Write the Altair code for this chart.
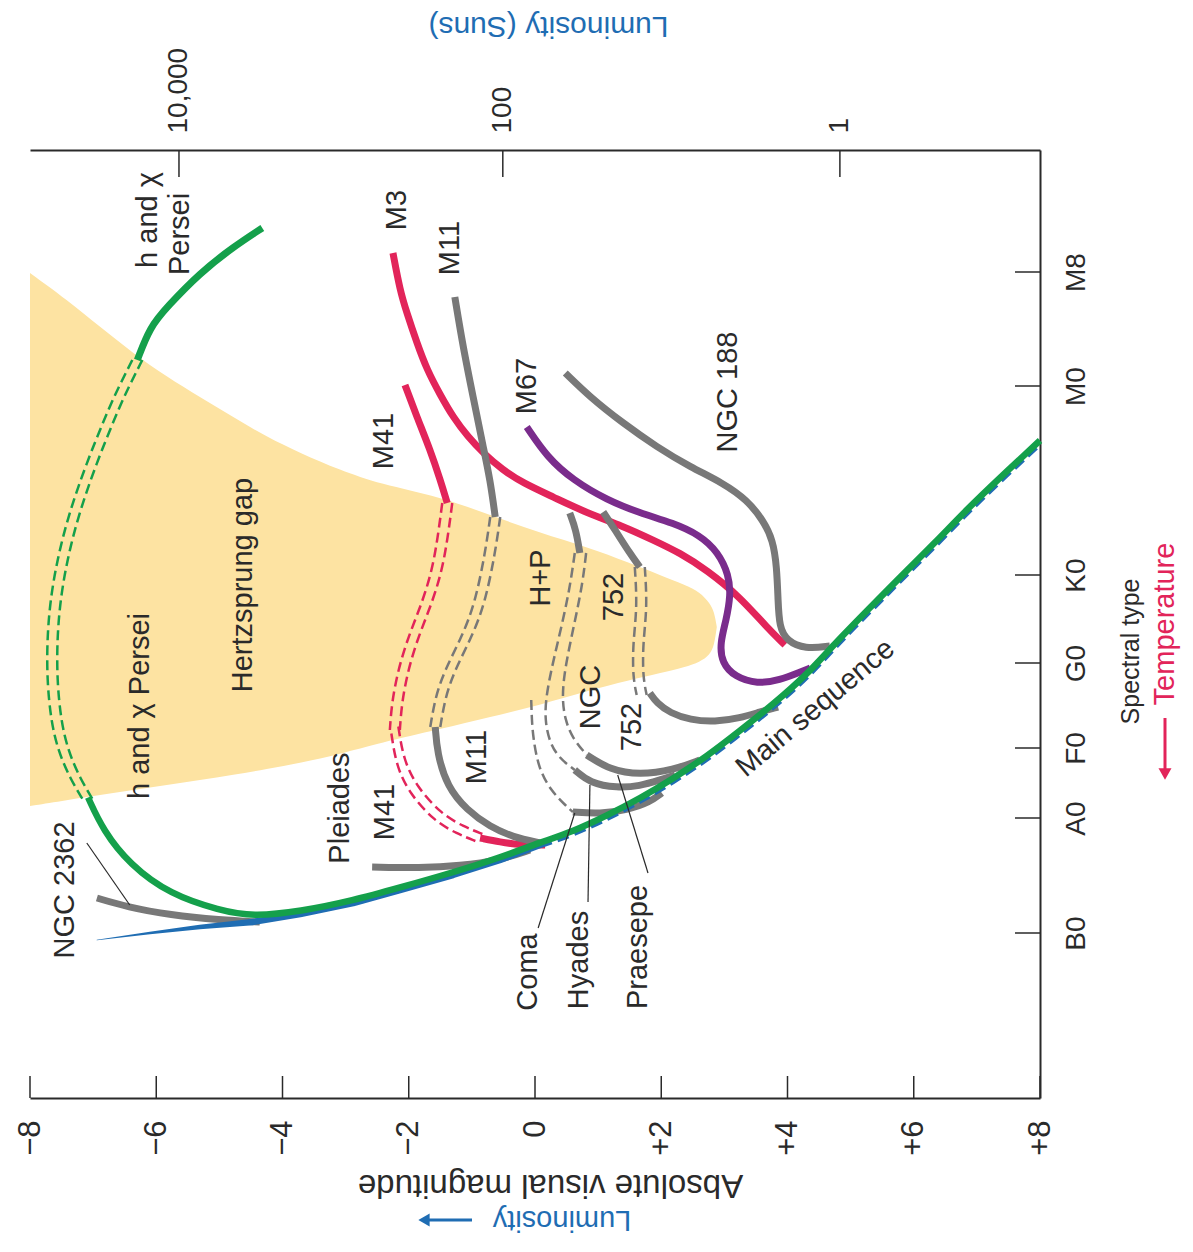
import altair as alt
import pandas as pd

# ---------------- layout / style ----------------
W, H = 1010, 948
FONT = "Liberation Sans"
RED = "#e2245a"
GRAY = "#787878"
GREEN = "#14a04b"
BLUE = "#1f6db3"
PURPLE = "#7a2c8c"
GAPC = "#fde3a2"
INK = "#2a2a2a"

# ---------------- axes data ----------------
MAG_TICKS = [-8, -6, -4, -2, 0, 2, 4, 6, 8]
MAG_LABELS = ["\u22128", "\u22126", "\u22124", "\u22122", "0", "+2", "+4", "+6", "+8"]
LUM_MAG = [-5.64, -0.51, 4.83]
LUM_LABELS = ["10,000", "100", "1"]
SPEC_POS = [0.0, 1.15, 1.85, 2.70, 3.58, 5.47, 6.61]
SPEC_LABELS = ["B0", "A0", "F0", "G0", "K0", "M0", "M8"]

# ---------------- Hertzsprung gap ----------------
GAP_MAG = [-8.0, -7.41, -6.89, -6.37, -5.83, -5.31, -4.78, -4.25, -3.72, -3.09, -2.46,
           -1.50, -0.71, 0.08, 0.82, 1.50, 1.98, 2.38, 2.61, 2.77, 2.84, 2.88]
GAP_UPPER = [6.60, 6.33, 6.06, 5.80, 5.56, 5.36, 5.16, 4.96, 4.80, 4.63, 4.49,
             4.36, 4.18, 4.00, 3.86, 3.70, 3.58, 3.48, 3.41, 3.30, 3.21, 3.06]
GAP_LOWER = [1.27, 1.33, 1.38, 1.43, 1.48, 1.53, 1.58, 1.64, 1.70, 1.79, 1.90,
             2.04, 2.16, 2.28, 2.42, 2.53, 2.60, 2.66, 2.71, 2.78, 2.88, 3.06]

# ---------------- main sequence ----------------
MS_MAG = [-6.94, -6.10, -5.31, -4.47, -3.72, -2.88, -2.14, -1.30, -0.55, 0.08, 0.60, 1.14,
          1.66, 2.19, 2.72, 3.25, 3.77, 4.31, 4.72, 5.31, 5.78, 6.34, 6.84, 7.37, 8.00]
MS_S = [-0.07, 0.00, 0.06, 0.11, 0.19, 0.30, 0.43, 0.58, 0.73, 0.88, 0.99, 1.15,
        1.32, 1.52, 1.74, 2.00, 2.26, 2.56, 2.85, 3.23, 3.53, 3.88, 4.21, 4.53, 4.90]

# ---------------- h and chi Persei (green) ----------------
GRN_TOP_MAG = [-4.32, -4.78, -5.31, -5.83, -6.10, -6.30]
GRN_TOP_S = [7.05, 6.86, 6.60, 6.26, 6.06, 5.73]
GRN_GAP_MAG = [-6.30, -6.54, -6.73, -7.05, -7.32, -7.49, -7.60, -7.65, -7.65, -7.59, -7.48, -7.29, -7.08]
GRN_GAP_S = [5.73, 5.43, 5.16, 4.66, 4.16, 3.73, 3.33, 2.93, 2.53, 2.13, 1.83, 1.55, 1.33]
GRN_LOW_MAG = [-7.08, -6.84, -6.42, -5.78, -4.99, -4.47, -3.72, -2.88, -2.14, -1.30, -0.55, 0.08,
               0.60, 1.14, 1.66, 2.19, 2.72, 3.25, 3.77, 4.31, 4.72, 5.31, 5.78, 6.34, 6.84, 7.37, 8.00]
GRN_LOW_S = [1.33, 1.00, 0.66, 0.36, 0.20, 0.14, 0.19, 0.30, 0.43, 0.58, 0.73, 0.88,
             0.99, 1.15, 1.32, 1.52, 1.74, 2.00, 2.26, 2.56, 2.85, 3.23, 3.53, 3.88, 4.21, 4.53, 4.90]

# ---------------- gray clusters ----------------
N2362_MAG = [-6.94, -6.46, -5.78, -4.99, -4.36]
N2362_S = [0.35, 0.26, 0.18, 0.13, 0.11]
PLEI_MAG = [-2.58, -1.82, -1.19, -0.55, -0.08]
PLEI_S = [0.66, 0.65, 0.67, 0.73, 0.83]
M11_TOP_MAG = [-1.27, -1.14, -0.98, -0.82, -0.71, -0.63]
M11_TOP_S = [6.36, 5.86, 5.36, 4.86, 4.53, 4.16]
M11_GAP_MAG = [-0.63, -0.71, -0.87, -1.08, -1.35, -1.50, -1.58]
M11_GAP_S = [4.16, 3.80, 3.30, 2.96, 2.63, 2.36, 2.06]
M11_LOW_MAG = [-1.58, -1.55, -1.39, -1.08, -0.71, -0.35, 0.08]
M11_LOW_S = [2.06, 1.80, 1.46, 1.23, 1.06, 0.96, 0.90]
HP_TOP_MAG = [0.55, 0.65, 0.71]
HP_TOP_S = [4.20, 4.03, 3.80]
HYA_GAP_MAG = [0.63, 0.57, 0.48, 0.35, 0.24, 0.17, 0.16, 0.22, 0.36, 0.63]
HYA_GAP_S = [3.80, 3.53, 3.23, 2.88, 2.58, 2.33, 2.13, 1.93, 1.76, 1.63]
PRA_GAP_MAG = [0.81, 0.76, 0.67, 0.55, 0.46, 0.43, 0.48, 0.59, 0.82]
PRA_GAP_S = [3.80, 3.53, 3.23, 2.88, 2.58, 2.33, 2.13, 1.95, 1.78]
COMA_GAP_MAG = [-0.06, -0.05, -0.03, 0.05, 0.24, 0.51, 0.60]
COMA_GAP_S = [2.33, 2.13, 1.96, 1.66, 1.43, 1.26, 1.21]
COMA_LOW_MAG = [0.60, 1.03, 1.46, 1.82, 2.01]
COMA_LOW_S = [1.21, 1.19, 1.23, 1.31, 1.40]
HYA_LOW_MAG = [0.63, 0.87, 1.30, 1.66, 1.98, 2.22]
HYA_LOW_S = [1.63, 1.50, 1.45, 1.47, 1.53, 1.58]
PRA_LOW_MAG = [0.82, 1.19, 1.66, 2.19, 2.61]
PRA_LOW_S = [1.78, 1.63, 1.58, 1.63, 1.73]
N752_TOP_MAG = [1.08, 1.30, 1.50, 1.66]
N752_TOP_S = [4.21, 4.00, 3.80, 3.66]
N752_GAP_MAG = [1.66, 1.70, 1.63, 1.63, 1.69]
N752_GAP_S = [3.66, 3.26, 2.90, 2.56, 2.38]
N752_LOW_MAG = [1.82, 1.93, 2.14, 2.46, 2.85, 3.25, 3.56, 3.85]
N752_LOW_S = [2.40, 2.30, 2.20, 2.13, 2.11, 2.15, 2.21, 2.26]
N188_MAG = [0.48, 0.87, 1.39, 1.93, 2.46, 2.98, 3.36, 3.61, 3.77, 3.83, 3.85, 3.87, 3.99, 4.28, 4.67]
N188_S = [5.60, 5.36, 5.10, 4.86, 4.66, 4.50, 4.33, 4.13, 3.93, 3.66, 3.33, 3.06, 2.92, 2.84, 2.87]

# ---------------- red clusters ----------------
M3_MAG = [-2.25, -2.14, -2.03, -1.87, -1.71, -1.50, -1.30, -1.06, -0.82, -0.51, -0.19, 0.29,
          0.82, 1.39, 1.87, 2.30, 2.72, 3.25, 3.68, 3.96]
M3_S = [6.80, 6.43, 6.20, 5.90, 5.63, 5.38, 5.16, 4.96, 4.80, 4.63, 4.50, 4.36,
        4.20, 4.07, 3.93, 3.80, 3.63, 3.36, 3.05, 2.88]
M41_TOP_MAG = [-2.06, -1.87, -1.66, -1.50, -1.39]
M41_TOP_S = [5.48, 5.16, 4.83, 4.53, 4.30]
M41_GAP1_MAG = [-1.39, -1.46, -1.55, -1.71, -1.93, -2.09, -2.19, -2.22]
M41_GAP1_S = [4.30, 3.96, 3.63, 3.30, 2.96, 2.63, 2.30, 2.03]
M41_GAP2_MAG = [-2.22, -2.14, -1.93, -1.55, -1.19, -0.87]
M41_GAP2_S = [2.03, 1.70, 1.43, 1.16, 1.03, 0.95]
M41_LOW_MAG = [-0.87, -0.55, -0.24, 0.16]
M41_LOW_S = [0.95, 0.91, 0.88, 0.88]

# ---------------- purple ----------------
M67_MAG = [-0.13, 0.19, 0.60, 1.14, 1.66, 2.19, 2.61, 2.90, 3.07, 3.10, 3.03, 2.93, 2.96, 3.17, 3.52, 3.88, 4.20, 4.36]
M67_S = [5.06, 4.76, 4.53, 4.33, 4.20, 4.10, 3.98, 3.81, 3.58, 3.38, 3.13, 2.90, 2.70, 2.56, 2.49, 2.53, 2.61, 2.65]

# ---------------- labels ----------------
LBL_TEXT = ["h and \u03c7", "Persei", "M3", "M11", "M41", "M67", "NGC 188", "Hertzsprung gap",
            "h and \u03c7 Persei", "NGC 2362", "Pleiades", "M41", "M11", "H+P", "752", "NGC", "752",
            "Coma", "Hyades", "Praesepe"]
LBL_MAG = [-6.13, -5.62, -2.19, -1.35, -2.39, -0.13, 3.06, -4.63,
           -6.26, -7.45, -3.09, -2.38, -0.92, 0.10, 1.25, 0.89, 1.54,
           -0.11, 0.70, 1.63]
LBL_S = [7.13, 6.99, 7.23, 6.85, 4.92, 5.47, 5.41, 3.48,
         2.27, 0.43, 1.25, 1.21, 1.76, 3.55, 3.36, 2.36, 2.06,
         -0.39, -0.27, -0.14]
MS_LABEL = "Main sequence"
MS_LABEL_MAG = 4.44
MS_LABEL_S = 2.25

# leader lines (start, end)
LEAD_NAME = ["NGC 2362", "Coma", "Hyades", "Praesepe"]
LEAD_MAG0 = [-7.10, 0.63, 0.87, 1.31]
LEAD_S0 = [0.90, 1.20, 1.48, 1.58]
LEAD_MAG1 = [-6.42, 0.05, 0.84, 1.79]
LEAD_S1 = [0.28, 0.05, 0.31, 0.60]

# ---------------- helpers ----------------
xs = alt.Scale(domain=[-8, 8], nice=False, zero=False)
ys = alt.Scale(domain=[-1.65, 7.83], nice=False, zero=False)
XE = alt.X("mag:Q", scale=xs, axis=None)
YE = alt.Y("s:Q", scale=ys, axis=None)


def frame(pieces):
    rows = []
    for name, mags, ss in pieces:
        for i, (m, s) in enumerate(zip(mags, ss)):
            rows.append({"name": name, "i": i, "mag": m, "s": s})
    return pd.DataFrame(rows)


def lines(pieces, color, width, dash=None, dx=0, dy=0, interp="basis"):
    mk = dict(color=color, strokeWidth=width, interpolate=interp)
    if dash:
        mk["strokeDash"] = dash
    if dx:
        mk["xOffset"] = dx
    if dy:
        mk["yOffset"] = dy
    return alt.Chart(frame(pieces)).mark_line(**mk).encode(
        x=XE, y=YE, detail="name:N", order=alt.Order("i:Q"))


def lookup_expr(vals, labels):
    expr = "''"
    for v, l in reversed(list(zip(vals, labels))):
        expr = f"datum.value == {v} ? '{l}' : ({expr})"
    return expr


LW = 7
DASH = [10, 5]
DW = 2.5

gap = alt.Chart(pd.DataFrame({"mag": GAP_MAG, "up": GAP_UPPER, "lo": GAP_LOWER})).mark_area(
    color=GAPC, interpolate="basis").encode(
    x=XE, y=alt.Y("up:Q", scale=ys, axis=None), y2="lo:Q")

# red
red_solid = lines([("M3", M3_MAG, M3_S), ("M41t", M41_TOP_MAG, M41_TOP_S),
                   ("M41l", M41_LOW_MAG, M41_LOW_S)], RED, LW)
red_d1a = lines([("M41g1", M41_GAP1_MAG, M41_GAP1_S)], RED, DW, DASH, dx=-5)
red_d1b = lines([("M41g1", M41_GAP1_MAG, M41_GAP1_S)], RED, DW, DASH, dx=5)
red_d2a = lines([("M41g2", M41_GAP2_MAG, M41_GAP2_S)], RED, DW, DASH, dx=-3.5, dy=3.5)
red_d2b = lines([("M41g2", M41_GAP2_MAG, M41_GAP2_S)], RED, DW, DASH, dx=3.5, dy=-3.5)

# gray
gray_solid = lines([("N2362", N2362_MAG, N2362_S), ("Plei", PLEI_MAG, PLEI_S),
                    ("M11t", M11_TOP_MAG, M11_TOP_S), ("M11l", M11_LOW_MAG, M11_LOW_S),
                    ("HP", HP_TOP_MAG, HP_TOP_S), ("ComaL", COMA_LOW_MAG, COMA_LOW_S),
                    ("HyaL", HYA_LOW_MAG, HYA_LOW_S), ("PraL", PRA_LOW_MAG, PRA_LOW_S),
                    ("752t", N752_TOP_MAG, N752_TOP_S), ("752l", N752_LOW_MAG, N752_LOW_S),
                    ("188", N188_MAG, N188_S)], GRAY, LW)
gray_pair = [("M11g", M11_GAP_MAG, M11_GAP_S), ("752g", N752_GAP_MAG, N752_GAP_S)]
gray_da = lines(gray_pair, GRAY, DW, DASH, dx=-5)
gray_db = lines(gray_pair, GRAY, DW, DASH, dx=5)
gray_single = lines([("HyaG", HYA_GAP_MAG, HYA_GAP_S), ("PraG", PRA_GAP_MAG, PRA_GAP_S),
                     ("ComaG", COMA_GAP_MAG, COMA_GAP_S)], GRAY, DW, DASH)

purple = lines([("M67", M67_MAG, M67_S)], PURPLE, LW)

# main sequence (blue)
ms_df = pd.DataFrame({"mag": MS_MAG, "s": MS_S, "i": list(range(len(MS_MAG)))})
blue_trail = alt.Chart(ms_df).transform_filter("datum.mag <= 0.1").transform_calculate(
    w="min(6.5, 0.6 + (datum.mag + 6.94) * 2.3)").mark_trail(color=BLUE).encode(
    x=XE, y=YE, size=alt.Size("w:Q", scale=None, legend=None), order=alt.Order("i:Q"))
blue_dash = alt.Chart(ms_df).transform_filter("datum.mag >= 0.0").mark_line(
    color=BLUE, strokeWidth=6.5, strokeDash=[12, 6], interpolate="basis").encode(
    x=XE, y=YE, order=alt.Order("i:Q"))

# green
green_solid = lines([("gt", GRN_TOP_MAG, GRN_TOP_S)], GREEN, LW)
green_low = lines([("gl", GRN_LOW_MAG, GRN_LOW_S)], GREEN, 6.5, dy=-2.5)
green_da = lines([("gg", GRN_GAP_MAG, GRN_GAP_S)], GREEN, DW, DASH, dx=-5)
green_db = lines([("gg", GRN_GAP_MAG, GRN_GAP_S)], GREEN, DW, DASH, dx=5)

# leader lines
lead_pieces = [(n, [a, b], [c, d]) for n, a, b, c, d in
               zip(LEAD_NAME, LEAD_MAG0, LEAD_MAG1, LEAD_S0, LEAD_S1)]
leaders = lines(lead_pieces, INK, 1.2, interp="linear")

labels = alt.Chart(pd.DataFrame({"t": LBL_TEXT, "mag": LBL_MAG, "s": LBL_S})).mark_text(
    angle=270, font=FONT, fontSize=29, color=INK, align="center", baseline="middle").encode(
    x=XE, y=YE, text="t:N")
ms_label = alt.Chart(pd.DataFrame({"t": [MS_LABEL], "mag": [MS_LABEL_MAG], "s": [MS_LABEL_S]})).mark_text(
    angle=320, font=FONT, fontSize=29, color=INK, align="center", baseline="middle").encode(
    x=XE, y=YE, text="t:N")

# axes (ticks drawn inward as rules)
axis_common = dict(ticks=False, domain=True, domainColor=INK, domainWidth=2, grid=False,
                   labelFont=FONT, labelColor=INK, labelFlush=False,
                   labelOverlap=False, labelBound=False, titleFont=FONT,
                   titleFontWeight="normal", titleAlign="center", titleBaseline="middle")

bottom = alt.Chart(pd.DataFrame({"mag": MAG_TICKS})).mark_rule(color=INK, strokeWidth=1.5).encode(
    x=alt.X("mag:Q", scale=xs, axis=alt.Axis(
        orient="bottom", values=MAG_TICKS, labelExpr=lookup_expr(MAG_TICKS, MAG_LABELS),
        labelAngle=270, labelAlign="right", labelBaseline="middle", labelPadding=22,
        labelFontSize=31,
        title="Absolute visual magnitude", titleAngle=180, titleX=520, titleY=86,
        titleFontSize=33, titleColor=INK, **axis_common)),
    y=alt.value(H - 22), y2=alt.value(H))

top = alt.Chart(pd.DataFrame({"mag": LUM_MAG})).mark_rule(color=INK, strokeWidth=1.5).encode(
    x=alt.X("mag:Q", scale=xs, axis=alt.Axis(
        orient="top", values=LUM_MAG, labelExpr=lookup_expr(LUM_MAG, LUM_LABELS),
        labelAngle=270, labelAlign="left", labelBaseline="middle", labelPadding=17,
        labelFontSize=28,
        title="Luminosity (Suns)", titleAngle=180, titleX=518, titleY=-125,
        titleFontSize=30, titleColor=BLUE, **axis_common)),
    y=alt.value(0), y2=alt.value(27))

right = alt.Chart(pd.DataFrame({"s": SPEC_POS})).mark_rule(color=INK, strokeWidth=1.5).encode(
    y=alt.Y("s:Q", scale=ys, axis=alt.Axis(
        orient="right", values=SPEC_POS, labelExpr=lookup_expr(SPEC_POS, SPEC_LABELS),
        labelAngle=270, labelAlign="center", labelBaseline="top", labelPadding=22,
        labelFontSize=28,
        title="Spectral type", titleAngle=270, titleX=90, titleY=501,
        titleFontSize=25, titleColor=INK, **axis_common)),
    x=alt.value(W - 25), x2=alt.value(W))

# extra axis captions with arrows
lum_text = alt.Chart(pd.DataFrame({"t": ["Luminosity"]})).mark_text(
    angle=180, font=FONT, fontSize=29, color=BLUE, align="center", baseline="middle").encode(
    text="t:N", x=alt.value(532), y=alt.value(1070))
lum_shaft = alt.Chart(pd.DataFrame({"k": [0]})).mark_rule(color=BLUE, strokeWidth=3).encode(
    x=alt.value(442), x2=alt.value(398), y=alt.value(1070))
lum_head = alt.Chart(pd.DataFrame({"k": [0]})).mark_point(
    shape="triangle-left", filled=True, size=170, color=BLUE, opacity=1).encode(
    x=alt.value(394), y=alt.value(1070))
temp_text = alt.Chart(pd.DataFrame({"t": ["Temperature"]})).mark_text(
    angle=270, font=FONT, fontSize=29, color=RED, align="center", baseline="middle").encode(
    text="t:N", x=alt.value(1135), y=alt.value(474))
temp_shaft = alt.Chart(pd.DataFrame({"k": [0]})).mark_rule(color=RED, strokeWidth=3).encode(
    x=alt.value(1135), y=alt.value(568), y2=alt.value(620))
temp_head = alt.Chart(pd.DataFrame({"k": [0]})).mark_point(
    shape="triangle-down", filled=True, size=170, color=RED, opacity=1).encode(
    x=alt.value(1135), y=alt.value(624))

chart = alt.layer(
    gap,
    red_solid, red_d1a, red_d1b, red_d2a, red_d2b,
    gray_solid, gray_da, gray_db, gray_single,
    purple,
    blue_trail, blue_dash,
    green_solid, green_da, green_db, green_low,
    leaders, labels, ms_label,
    bottom, top, right,
    lum_text, lum_shaft, lum_head, temp_text, temp_shaft, temp_head,
).resolve_axis(x="independent", y="independent").properties(
    width=W, height=H,
    autosize=alt.AutoSizeParams(type="none"),
    padding={"left": 22, "top": 142, "right": 142, "bottom": 142},
).configure_view(stroke=None)

chart.save("out.html", embed_options={"renderer": "svg", "actions": False})
